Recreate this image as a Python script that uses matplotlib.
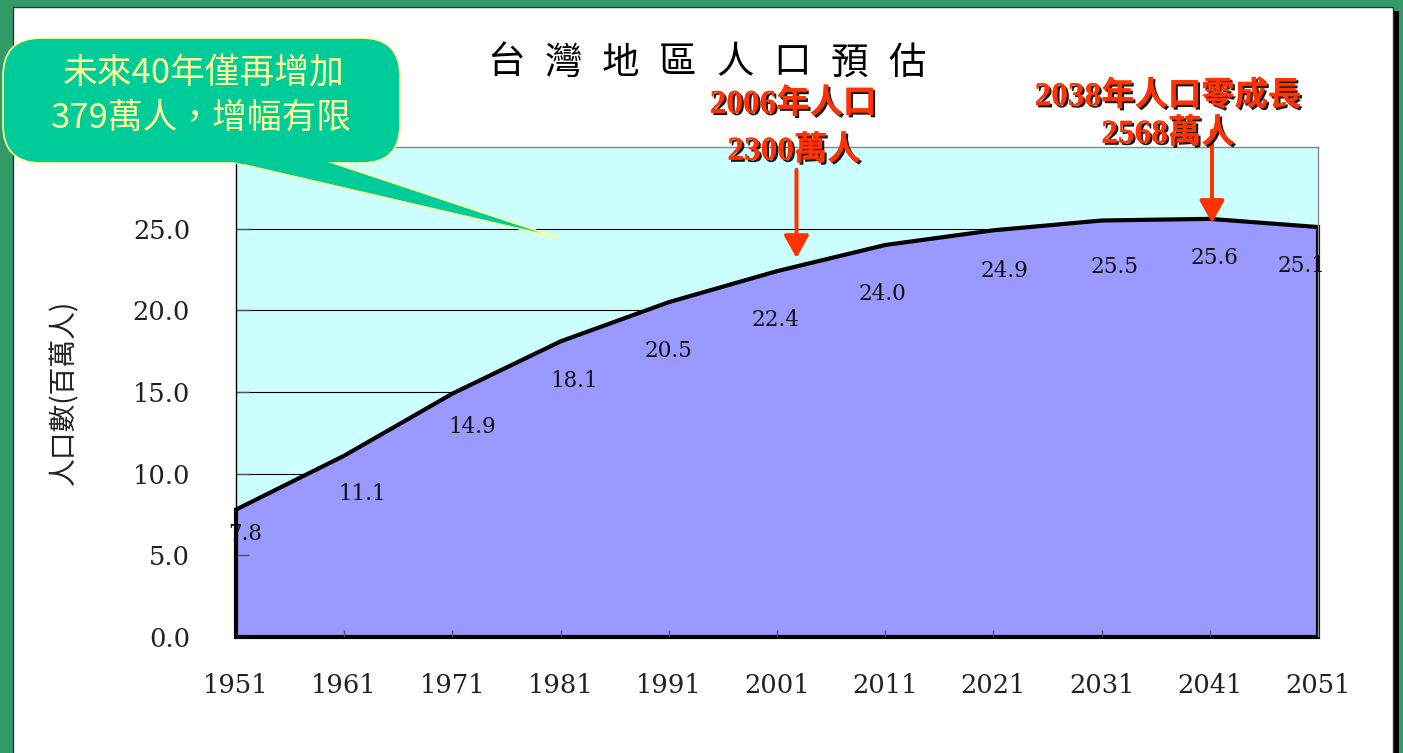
import numpy as np
import matplotlib
matplotlib.use('Agg')
import matplotlib.pyplot as plt
from matplotlib.patches import Rectangle, FancyBboxPatch, Polygon
import matplotlib.transforms as mtransforms
import matplotlib.patheffects as pe

# ---------------- data ----------------
years = [1951, 1961, 1971, 1981, 1991, 2001, 2011, 2021, 2031, 2041, 2051]
population = [7.8, 11.1, 14.9, 18.1, 20.5, 22.4, 24.0, 24.9, 25.5, 25.6, 25.1]
y_ticks = [0, 5, 10, 15, 20, 25]
year_labels = [str(y) for y in years]

title_text = "台灣地區人口預估"
y_label = "人口數(百萬人)"
callout_lines = ["未來40年僅再增加", "379萬人，增幅有限"]
note1_lines = ["2006年人口", "2300萬人"]
note2_lines = ["2038年人口零成長", "2568萬人"]
# arrow annotations (x in years, y tip/start in data units)
arrow1 = (2002.8, 23.2, 28.6)
arrow2 = (2041.2, 25.35, 31.0)

# ---------------- style ----------------
label_offsets = [(9, 24), (18, 38), (20, 33), (14, 40), (0, 49), (-1, 49),
                 (-3, 49), (11, 41), (13, 46), (5, 39), (-16, 39)]  # pixels
GREEN = '#339966'
RED = '#FF3300'
W, H = 1403, 753

fig = plt.figure(figsize=(W / 100, H / 100), dpi=100, facecolor=GREEN)
T = mtransforms.Affine2D().scale(1 / W, -1 / H).translate(0, 1) + fig.transFigure

# white panel with dark shadow
fig.add_artist(Rectangle((1393, 11), 6, 760, transform=T, facecolor='black',
                         edgecolor='none', zorder=-2))
fig.add_artist(Rectangle((13, 7), 1380, 760, transform=T, facecolor='white',
                         edgecolor='#333333', lw=1, zorder=-1))

# axes
x0, x1, yt, yb = 236, 1318, 147, 637
ax = fig.add_axes([x0 / W, 1 - yb / H, (x1 - x0) / W, (yb - yt) / H])
ax.set_facecolor('#CCFFFF')
ax.set_xlim(years[0], years[-1])
ax.set_ylim(0, 30)

# gridlines (drawn under the area)
ax.hlines(y_ticks[1:], years[0], years[-1], colors='black', lw=0.8, zorder=0.8)

# area
px = np.concatenate([[years[0]], years, [years[-1]]])
py = np.concatenate([[0], population, [0]])
ax.fill(px, py, facecolor='#9999FF', edgecolor='black', lw=3.0,
        joinstyle='miter', zorder=1, clip_on=False)

# data labels
for x, v, (dx, dy) in zip(years, population, label_offsets):
    ax.annotate(f"{v:.1f}", (x, v), xytext=(dx * 0.72, -dy * 0.72),
                textcoords='offset points', ha='center', va='center',
                fontsize=15.5, family='DejaVu Serif', color='#111111', zorder=3)

# spines and ticks
for s in ['top', 'right']:
    ax.spines[s].set_color('#888888')
    ax.spines[s].set_linewidth(1.0)
ax.spines['left'].set_color('black')
ax.spines['left'].set_linewidth(1.0)
ax.spines['bottom'].set_color('black')

ax.set_yticks(y_ticks)
ax.set_yticklabels([f"{t:.1f}" for t in y_ticks])
ax.set_xticks(years)
ax.set_xticklabels(year_labels)
ax.tick_params(axis='y', direction='in', length=9, width=1, color='#555555',
               pad=33, labelsize=18.5, labelcolor='#222222')
ax.tick_params(axis='x', direction='in', length=5, width=1, color='#555555',
               pad=26, labelsize=18.5, labelcolor='#222222')
for lbl in ax.get_xticklabels() + ax.get_yticklabels():
    lbl.set_fontfamily('DejaVu Serif')

# y label
fig.text(64 / W, 1 - 392 / H, y_label, rotation=90, ha='center', va='center',
         fontsize=20, family=['Noto Sans CJK TC', 'DejaVu Sans'], color='#222222')

# title (spaced characters)
for i, ch in enumerate(title_text):
    fig.text(506 + 57.3 * i, 63, ch, transform=T, ha='center', va='center',
             fontsize=27, family=['Noto Sans CJK TC', 'DejaVu Sans'], color='black')

# red notes with shadow
shadow = [pe.withSimplePatchShadow(offset=(1.6, -1.6), shadow_rgbFace='black', alpha=0.9),
          pe.Normal()]
note_font = dict(fontsize=24, fontweight='bold', color=RED,
                 family=['Liberation Serif', 'Noto Sans CJK TC'],
                 ha='center', va='center', transform=T, path_effects=shadow, zorder=6)
fig.text(793, 104, note1_lines[0], **note_font)
fig.text(794, 151, note1_lines[1], **note_font)
fig.text(1168, 96, note2_lines[0], **note_font)
fig.text(1168, 134, note2_lines[1], **note_font)

# arrows
for (ax_x, y_tip, y_start) in [arrow1, arrow2]:
    ax.annotate('', xy=(ax_x, y_tip), xytext=(ax_x, y_start),
                arrowprops=dict(arrowstyle='-|>,head_length=0.45,head_width=0.25',
                                color=RED, lw=2.9, mutation_scale=30,
                                shrinkA=0, shrinkB=0),
                annotation_clip=False, zorder=5)

# callout bubble
CALL = '#00CC99'
EDGE = '#FFFF99'
tail = Polygon([[180.0, 150.0], [559.0, 238.0], [294.0, 150.0]], closed=True,
               transform=T, facecolor=CALL, edgecolor=EDGE, lw=1.2, zorder=7)
fig.add_artist(tail)
fig.add_artist(FancyBboxPatch((3, 38), 397, 125,
                              boxstyle='round,pad=0,rounding_size=38',
                              transform=T, facecolor=CALL, edgecolor=EDGE,
                              lw=1.2, zorder=7.2))
cover = Polygon([[204.0, 155.0], [307.0, 155.0], [333.5, 164.0], [241.5, 164.0]],
                closed=True, transform=T, facecolor=CALL, edgecolor='none', zorder=7.4)
fig.add_artist(cover)
fig.text(204, 74, callout_lines[0], transform=T, ha='center', va='center',
         fontsize=25, family=['Noto Sans CJK TC', 'DejaVu Sans'], color='#FFFF99', zorder=8)
fig.text(202, 118, callout_lines[1], transform=T, ha='center', va='center',
         fontsize=25, family=['Noto Sans CJK TC', 'DejaVu Sans'], color='#FFFF99', zorder=8)

fig.savefig('out.png', dpi=100, facecolor=fig.get_facecolor())
